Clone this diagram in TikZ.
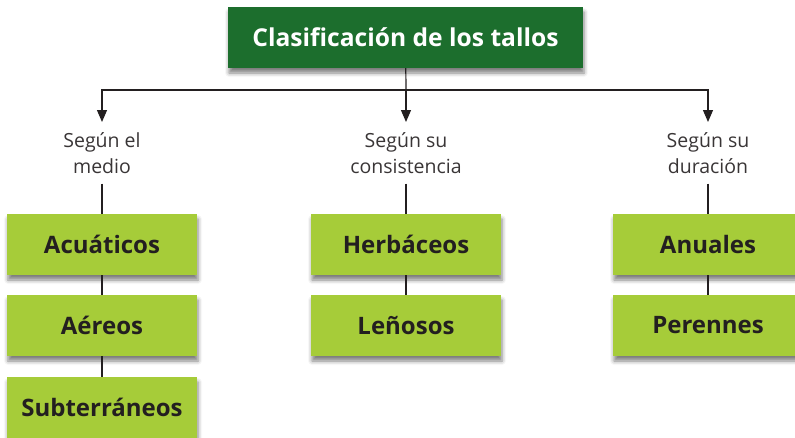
\documentclass[tikz,border=0pt]{standalone}
\usepackage{fontspec}
\setmainfont{Open Sans}
\usetikzlibrary{arrows.meta, shadows.blur, positioning}
\definecolor{darkgreen}{RGB}{28,110,45}
\definecolor{lightgreen}{RGB}{166,204,57}
\definecolor{ink}{RGB}{35,31,32}

\begin{document}
\begin{tikzpicture}[x=1pt, y=-1pt,
    softshadow/.style={blur shadow={shadow xshift=1pt, shadow yshift=-5pt, shadow blur radius=4pt, shadow opacity=50}},
    title/.style={fill=darkgreen, text=white, font=\bfseries\fontsize{24.6}{28}\selectfont, minimum width=355pt, minimum height=61pt, softshadow},
    kind/.style={fill=lightgreen, text=ink, font=\bfseries\fontsize{24}{28}\selectfont, minimum width=190pt, minimum height=61pt, softshadow},
    crit/.style={align=center, inner ysep=10pt, font=\fontsize{19.5}{26}\selectfont, text=ink!90},
    link/.style={draw=ink, line width=1.2pt},
    arrowlink/.style={link, -{Triangle[width=10pt, length=12pt]}}]
    \useasboundingbox (0,0) rectangle (795,437);

    \node[title] (root) at (405.5,37.5) {Clasificación de los tallos};
    \coordinate (bus) at (406,90);

    % criterios
    \node[crit, anchor=north] (medio) at (102,122) {Según el\\medio};
    \node[crit, anchor=north] (consistencia) at (406,122) {Según su\\consistencia};
    \node[crit, anchor=north] (duracion) at (708,122) {Según su\\duración};

    % tipos de tallo
    \node[kind] (acuaticos) at (102,244.5) {Acuáticos};
    \node[kind] (aereos) at (102,325.5) {Aéreos};
    \node[kind] (subterraneos) at (102,407.5) {Subterráneos};
    \node[kind] (herbaceos) at (406,244.5) {Herbáceos};
    \node[kind] (lenosos) at (406,325.5) {Leñosos};
    \node[kind] (anuales) at (708,244.5) {Anuales};
    \node[kind] (perennes) at (708,325.5) {Perennes};

    \draw[link] (root) -- (bus);
    \draw[arrowlink] (bus) -| (medio.north);
    \draw[arrowlink] (bus) -- (consistencia.north);
    \draw[arrowlink] (bus) -| (duracion.north);

    \draw[link]
    (medio) -- (acuaticos)
    (acuaticos) -- (aereos)
    (aereos) -- (subterraneos)
    (consistencia) -- (herbaceos)
    (herbaceos) -- (lenosos)
    (duracion) -- (anuales)
    (anuales) -- (perennes);
\end{tikzpicture}
\end{document}
